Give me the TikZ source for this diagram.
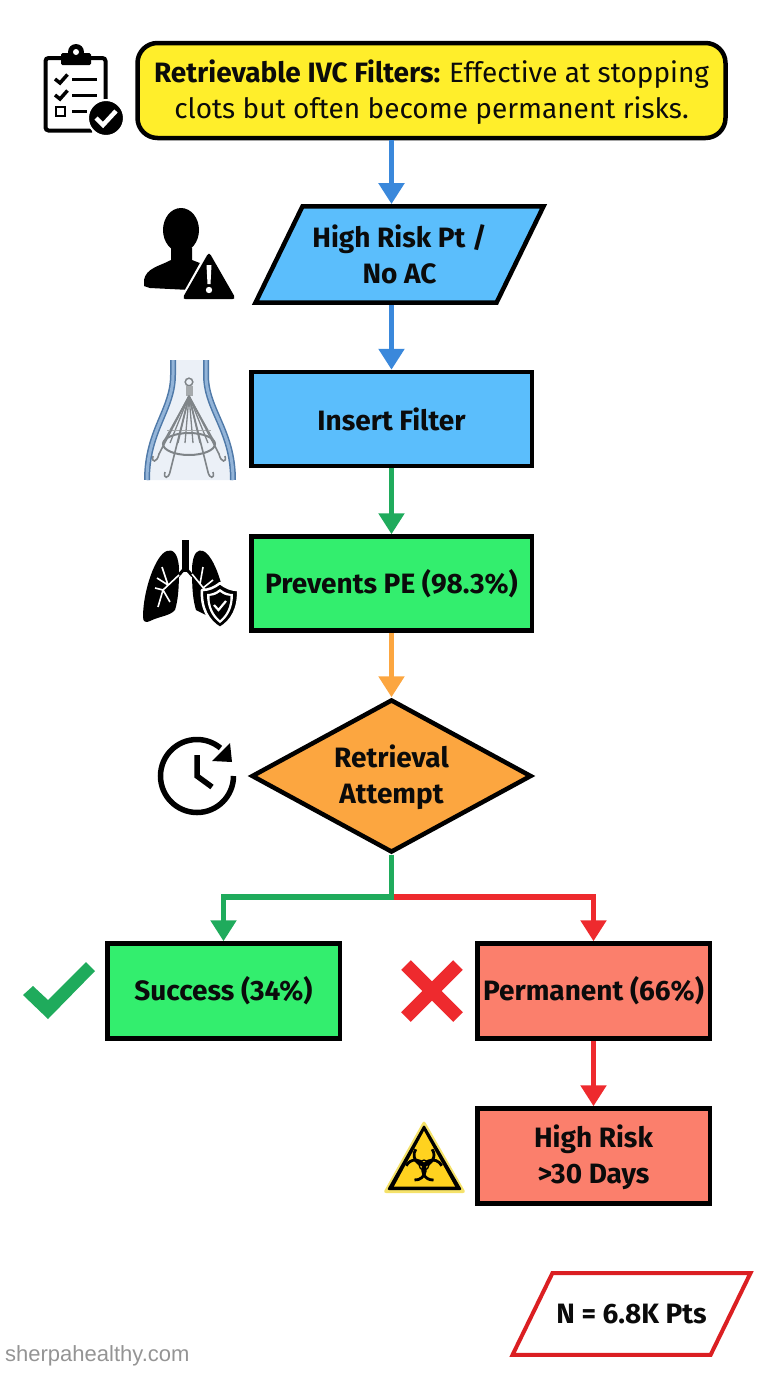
\documentclass[tikz,border=0pt]{standalone}
\usepackage{fontspec}
\setmainfont{Fira Sans}
\newfontfamily\markfont{Liberation Sans}
\usetikzlibrary{arrows.meta,shapes.geometric,positioning}
\definecolor{inkblack}{HTML}{0B0B0B}
\definecolor{titleyellow}{HTML}{FFEE2B}
\definecolor{boxblue}{HTML}{5BBEFC}
\definecolor{boxgreen}{HTML}{33EE6E}
\definecolor{boxorange}{HTML}{FCA640}
\definecolor{boxsalmon}{HTML}{FB7F6C}
\definecolor{linkblue}{HTML}{3A88DB}
\definecolor{linkgreen}{HTML}{1FAB5C}
\definecolor{linkred}{HTML}{EE2A2E}
\definecolor{framered}{HTML}{DB1F22}
\definecolor{veinblue}{HTML}{4F79A8}
\definecolor{veinlight}{HTML}{93B4D8}
\definecolor{veinbg}{HTML}{EBF0F7}
\definecolor{hazyellow}{HTML}{FFD21F}
\definecolor{hazedge}{HTML}{F5E26A}
\definecolor{wiregray}{HTML}{7F8488}
\newcommand{\topstrut}{\rule{0pt}{26pt}}
\tikzset{
  flowtext/.style={text=inkblack,font=\fontsize{28}{36}\selectfont\fontseries{sb}\selectfont,align=center,inner sep=0pt},
  procbox/.style={flowtext,rectangle,draw=black,line width=4.5pt,minimum width=280.5pt,minimum height=94pt},
  endbox/.style={procbox,minimum width=232.5pt,minimum height=95pt},
  slantbox/.style={flowtext,trapezium,trapezium stretches body=true,trapezium left angle=64,trapezium right angle=116},
  linkline/.style={line width=5.5pt,-{Triangle[length=21pt,width=25pt]}}
}
\begin{document}
\begin{tikzpicture}[x=1pt,y=-1pt]
\useasboundingbox (0,0) rectangle (768,1376);

\node[flowtext,draw=black,fill=titleyellow,line width=4.5pt,rounded corners=20pt,minimum width=588pt,minimum height=95pt] (title) at (431.5,90.5) {\topstrut\textbf{Retrievable IVC Filters:} {\fontseries{m}\selectfont Effective at stopping}\\{\fontseries{m}\selectfont clots but often become permanent risks.}};
\node[slantbox,draw=black,fill=boxblue,line width=4.5pt,minimum width=288pt,inner ysep=18.5pt] (highrisk) at (399.5,254.5) {High Risk Pt /\\No AC};
\node[procbox,fill=boxblue] (insert) at (391.5,419) {Insert Filter};
\node[procbox,fill=boxgreen,below of=insert,node distance=164.5pt] (prevents) {Prevents PE (98.3\%)};
\node[flowtext,diamond,aspect=1.83,draw=black,fill=boxorange,line width=4.5pt,minimum width=280pt,minimum height=153pt] (attempt) at (391.5,776) {\topstrut Retrieval\\Attempt};
\node[endbox,fill=boxgreen] (success) at (223.5,991) {Success (34\%)};
\node[endbox,fill=boxsalmon] (permanent) at (593.5,991) {Permanent (66\%)};
\node[endbox,fill=boxsalmon,below of=permanent,node distance=165pt] (daysrisk) {\topstrut High Risk\\>30 Days};
\node[slantbox,draw=framered,line width=4pt,minimum width=238pt,inner ysep=31pt] (sample) at (631.5,1314) {N = 6.8K Pts};
\node[anchor=west,inner sep=0pt,text=black!42,font=\fontsize{22}{24}\selectfont\markfont] (site) at (5,1356) {sherpahealthy.com};
\coordinate (split) at (attempt.south |- 0,897);

\draw[linkline,linkblue] (title.south -| insert) -- (highrisk.north -| insert);
\draw[linkline,linkblue] (highrisk.south -| insert) -- (insert.north);
\draw[linkline,linkgreen] (insert.south) -- (prevents.north);
\draw[linkline,boxorange] (prevents.south) -- (attempt.north);
\draw[linkline,linkred] (split) -| (permanent.north);
\draw[linkline,linkgreen] (attempt.south) |- (split) -| (success.north);
\draw[linkline,linkred] (permanent.south) -- (daysrisk.north);

\draw[black,line width=4pt,rounded corners=3pt] (61,58) -- (45.5,58) -- (45.5,130.5) -- (92,130.5);
\draw[black,line width=4pt,rounded corners=3pt] (91,58) -- (105.5,58) -- (105.5,102);
\fill[black,rounded corners=1.5pt] (61,53) rectangle (91,65);
\fill[black] (76,52) circle (8pt);
\fill[white] (76,52) circle (3pt);
\foreach \rowy in {79,95} {
  \draw[black,line width=3.5pt] (55,\rowy) -- (60,\rowy+4) -- (67.5,\rowy-4.5);
  \draw[black,line width=3pt] (72,\rowy) -- (97,\rowy);
}
\draw[black,line width=2pt] (56,107) rectangle (65,116);
\draw[black,line width=3pt] (72,111) -- (87,111);
\fill[black,draw=white,line width=2pt] (106,118) circle (18pt);
\draw[white,line width=4.5pt] (96,118) -- (103,125) -- (116,111);

\fill[black] (181,230) ellipse (18pt and 22pt);
\fill[black] (171,248) -- (171,260) .. controls (160,266) and (146,268) .. (144,280) -- (144,286) -- (150,288) -- (190,290) -- (205,265) -- (192,260) -- (192,248) -- cycle;
\fill[black,draw=white,line width=3pt,line join=round] (209,250) -- (181,300) -- (237,300) -- cycle;
\fill[black,draw=black,line width=4pt,line join=round] (209,256) -- (185.5,297) -- (232.5,297) -- cycle;
\fill[white] (206.5,265) -- (211.5,265) -- (210.5,284) -- (207.5,284) -- cycle;
\fill[white] (209,290) circle (3.2pt);

\fill[veinbg] (173,360) -- (173,375) .. controls (173,410) and (147,430) .. (147,480) -- (233,480) .. controls (233,430) and (206,410) .. (206,375) -- (206,360) -- cycle;
\foreach \wallcol/\wallw in {veinblue/6,veinlight/3} {
  \draw[\wallcol,line width=\wallw pt] (173,360) -- (173,375) .. controls (173,410) and (147,430) .. (147,480);
  \draw[\wallcol,line width=\wallw pt] (206,360) -- (206,375) .. controls (206,410) and (233,430) .. (233,480);
}
\draw[wiregray,line width=1.5pt] (189,382) circle (3.8pt);
\fill[wiregray!70] (186,386) rectangle (192.5,396);
\foreach \strutx in {-26,-19,-11,-4,4,11,19,26} {
  \draw[wiregray,line width=1.3pt] (189,396) -- (189+\strutx,443);
}
\draw[wiregray,line width=2pt] (189,444) ellipse (26pt and 11pt);
\draw[wiregray!70,line width=0.8pt] (167,430) -- (211,430);
\foreach \legsign in {-1,1} {
  \draw[wiregray,line width=1.6pt] (189,396) -- (189+\legsign*19,472) .. controls (189+\legsign*20.5,479) and (189+\legsign*26,479) .. (189+\legsign*24,472);
  \draw[wiregray,line width=1.6pt] (189,396) -- (189+\legsign*30,454) .. controls (189+\legsign*32,463) and (189+\legsign*38,463) .. (189+\legsign*36,456);
}

\fill[black] (182,540) rectangle (188.5,572);
\draw[black,line width=3pt] (185,568) -- (178,576);
\draw[black,line width=3pt] (185.5,568) -- (192.5,576);
\fill[black] (179,568) .. controls (178,552) and (172,549) .. (167,551) .. controls (156,554) and (143,590) .. (143,617) .. controls (143,622) and (146,623) .. (150,621) .. controls (160,616) and (170,616) .. (175,610) .. controls (178,600) and (179,590) .. (179,568) -- cycle;
\fill[black] (192,568) .. controls (193,552) and (198,549) .. (203,551) .. controls (214,555) and (226,590) .. (226,617) .. controls (226,622) and (222,623) .. (218,621) -- (196,610) .. controls (193,600) and (192,590) .. (192,568) -- cycle;
\draw[white,line width=1.6pt] (179,575) -- (163,590) -- (155,588) (168,585) -- (162,567) (168,585) -- (157,578) (163,590) -- (158,607) (163,590) -- (170,602);
\draw[white,line width=1.6pt] (192,574) -- (205,590) (200,584) -- (203,567) (203,588) -- (213,580);
\fill[black,draw=white,line width=2.5pt,line join=round] (220,583) .. controls (214,588) and (208,590) .. (202,590) .. controls (201,608) and (208,621) .. (220,628) .. controls (232,621) and (239,608) .. (238,590) .. controls (232,590) and (226,588) .. (220,583) -- cycle;
\fill[white] (220,589) .. controls (215,593) and (211,594) .. (207,594) .. controls (207,608) and (212,617) .. (220,623) .. controls (228,617) and (233,608) .. (233,594) .. controls (229,594) and (225,593) .. (220,589) -- cycle;
\fill[black] (220,592) .. controls (216,595) and (213,596) .. (209.5,596) .. controls (209.5,607) and (214,615) .. (220,620) .. controls (226,615) and (230.5,607) .. (230.5,596) .. controls (227,596) and (224,595) .. (220,592) -- cycle;
\draw[white,line width=2.2pt] (214,605) -- (218.5,610) -- (226,601);

\draw[black,line width=5.5pt] (197,755) -- (197,776) -- (212,787);
\draw[black,line width=5.5pt] (233.5,776) arc[start angle=0,end angle=-310,radius=36.5pt];
\fill[black] (212,761) -- (232,762) -- (230,743) -- cycle;

\fill[linkgreen] (23,995) -- (33,986) -- (48,1000) -- (86,962) -- (95,971) -- (48,1019) -- cycle;

\draw[linkred,line width=13.5pt] (406,965) -- (458,1017);
\draw[linkred,line width=13.5pt] (458,965) -- (406,1017);

\fill[hazedge,rounded corners=3pt] (424,1120) -- (383,1193) -- (466,1193) -- cycle;
\fill[black,rounded corners=2pt] (424,1124.5) -- (387,1190) -- (462,1190) -- cycle;
\fill[hazyellow] (424,1131) -- (394,1186.5) -- (455,1186.5) -- cycle;
\foreach \bioang in {90,210,330} {
  \draw[black,line width=2.8pt] (424,1165)++(\bioang:10pt)++(\bioang+55:10pt) arc[start angle=\bioang+55,delta angle=250,radius=10pt];
}
\draw[black,line width=1.3pt] (424,1165) circle (5pt);
\end{tikzpicture}
\end{document}
